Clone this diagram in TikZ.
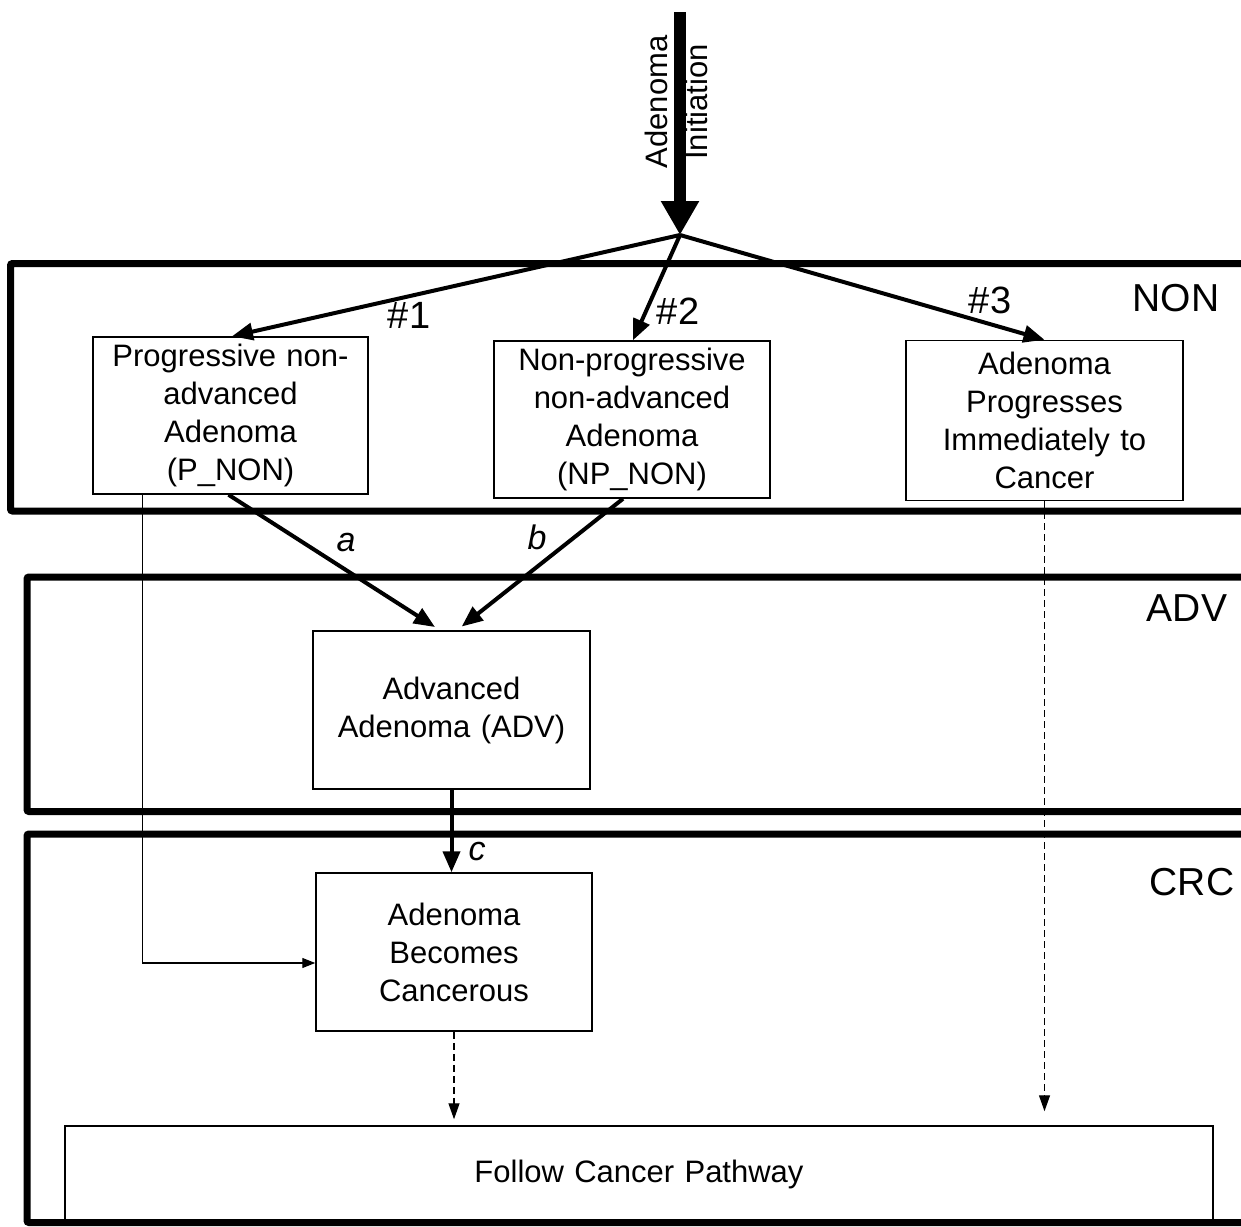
\documentclass[tikz,border=0pt]{standalone}
\usepackage{fontspec}
\setmainfont{Liberation Sans}
\usetikzlibrary{arrows.meta,calc}
\begin{document}
\begin{tikzpicture}[x=1pt,y=-1pt,
  band/.style={line width=7pt,rounded corners=2pt},
  statebox/.style={draw,line width=1.5pt,inner sep=0pt,align=center,
     font=\fontsize{31}{38}\selectfont},
  zonelabel/.style={font=\fontsize{39}{44}\selectfont,inner sep=0pt},
  pathlabel/.style={font=\fontsize{38}{44}\selectfont,inner sep=0pt},
  letterlabel/.style={font=\fontsize{34}{40}\selectfont\itshape,inner sep=0pt},
  mainarrow/.style={line width=4pt,-{Triangle[length=21pt,width=17pt]}},
  thinarrow/.style={line width=1.3pt,-{Triangle[length=13pt,width=10pt]}},
  dasharrow/.style={line width=1.3pt,dash pattern=on 7pt off 4pt,-{Triangle[length=16pt,width=11pt]}}
]
\useasboundingbox (0,0) rectangle (1241,1226);
\clip (0,0) rectangle (1241,1226);

% bands
\draw[band] (10.5,263.5) rectangle (1300,511);
\draw[band] (27,577) rectangle (1300,811.5);
\draw[band] (27,834) rectangle (1300,1222.5);

\node[zonelabel] (lnon) at (1176,298) {NON};
\node[zonelabel] (ladv) at (1187,608) {ADV};
\node[zonelabel] (lcrc) at (1192,882) {CRC};

% boxes
\node[statebox,minimum width=275pt,minimum height=157pt,text width=268pt] (pnon) at (230.5,415.5)
  {Progressive non-\\advanced\\Adenoma\\(P\_NON)};
\node[statebox,minimum width=276pt,minimum height=157pt,text width=268pt] (npnon) at (632,419.5)
  {Non-progressive\\non-advanced\\Adenoma\\(NP\_NON)};
\node[statebox,minimum width=277pt,minimum height=160pt,text width=269pt] (imm) at (1044.5,420.5)
  {Adenoma\\Progresses\\Immediately to\\Cancer};
\node[statebox,minimum width=277pt,minimum height=158pt,text width=269pt] (adv) at (451.5,710)
  {Advanced\\Adenoma (ADV)};
\node[statebox,minimum width=276pt,minimum height=158pt,text width=268pt] (crc) at (454,952)
  {Adenoma\\Becomes\\Cancerous};
\node[statebox,minimum width=1148pt,minimum height=96pt,text width=1130pt] (fcp) at (639,1174)
  {Follow Cancer Pathway};

% initiation arrow
\node[rotate=90,align=center,inner sep=0pt,font=\fontsize{31}{40}\selectfont] (init) at (676,102)
  {Adenoma\\Initiation};
\coordinate (start) at (680,12);
\coordinate (apex) at (680,235);
\draw[line width=12pt,-{Triangle[length=34pt,width=36pt]}] (start) -- (apex);

% branches
\draw[mainarrow] (apex) -- ([xshift=1.5pt]pnon.north);
\draw[mainarrow] (apex) -- ([xshift=1pt]npnon.north);
\draw[mainarrow] (apex) -- (imm.north);
\node[pathlabel] (l1) at (409,315) {\#1};
\node[pathlabel] (l2) at (678,311) {\#2};
\node[pathlabel] (l3) at (990,300) {\#3};

% to advanced
\draw[mainarrow,shorten >=6pt] ([xshift=-2pt]pnon.south) -- ([xshift=-11.5pt]adv.north);
\draw[mainarrow,shorten >=6pt] ([xshift=-9pt]npnon.south) -- ([xshift=5.5pt]adv.north);
\node[letterlabel] (la) at (346,543) {a};
\node[letterlabel] (lb) at (537,537) {b};

% to cancer
\draw[mainarrow] (adv.south) -- (adv.south |- crc.north);
\node[letterlabel] (lc) at (477,852) {c};

% thin bypass
\draw[thinarrow] ($(pnon.south west)+(50,0)$) |- ([yshift=-11pt]crc.west);

% dashed to pathway
\draw[dasharrow,shorten >=14pt] (imm.south) -- (imm.south |- fcp.north);
\draw[dasharrow,shorten >=6pt] (crc.south) -- (crc.south |- fcp.north);
\end{tikzpicture}
\end{document}
